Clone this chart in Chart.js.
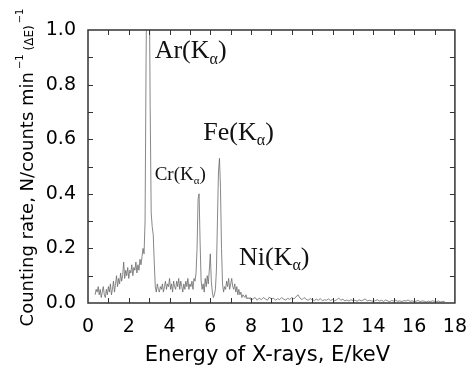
<!DOCTYPE html>
<html>
<head>
<meta charset="utf-8">
<script src="https://cdn.jsdelivr.net/npm/chart.js@4/dist/chart.umd.min.js"></script>
<style>
  html, body { margin: 0; padding: 0; background: #fff; }
</style>
</head>
<body>
<canvas id="spectrum" width="472" height="365"></canvas>
<script>
// counting rate, every 0.05 keV from 0.35 to 8.00 keV
const fineStart = 0.35
const fineStep = 0.05
const rateFine = [
  0.03, 0.05, 0.04, 0.06, 0.03, 0.05, 0.02, 0.04, 0.06, 0.03,   // 0.35 - 0.80
  0.02, 0.05, 0.03, 0.06, 0.04, 0.07, 0.03, 0.05, 0.08, 0.04,   // 0.85 - 1.30
  0.07, 0.10, 0.06, 0.09, 0.07, 0.11, 0.08, 0.10, 0.15, 0.09,   // 1.35 - 1.80
  0.12, 0.10, 0.13, 0.09, 0.12, 0.11, 0.14, 0.10, 0.13, 0.12,   // 1.85 - 2.30
  0.15, 0.11, 0.14, 0.12, 0.16, 0.14, 0.17, 0.20, 0.18, 0.30,   // 2.35 - 2.80
  0.90, 1.30, 1.35, 1.25, 0.72, 0.33, 0.28, 0.25, 0.15, 0.06,   // 2.85 - 3.30
  0.04, 0.07, 0.05, 0.04, 0.06, 0.05, 0.07, 0.04, 0.06, 0.08,   // 3.35 - 3.80
  0.05, 0.07, 0.06, 0.09, 0.05, 0.07, 0.04, 0.08, 0.06, 0.05,   // 3.85 - 4.30
  0.08, 0.06, 0.09, 0.05, 0.08, 0.06, 0.04, 0.07, 0.05, 0.08,   // 4.35 - 4.80
  0.06, 0.09, 0.05, 0.07, 0.06, 0.08, 0.05, 0.09, 0.08, 0.11,   // 4.85 - 5.30
  0.20, 0.38, 0.40, 0.22, 0.08, 0.05, 0.07, 0.04, 0.09, 0.06,   // 5.35 - 5.80
  0.10, 0.07, 0.12, 0.18, 0.08, 0.04, 0.02, 0.03, 0.05, 0.12,   // 5.85 - 6.30
  0.30, 0.48, 0.53, 0.42, 0.20, 0.07, 0.04, 0.06, 0.05, 0.08,   // 6.35 - 6.80
  0.06, 0.09, 0.05, 0.07, 0.09, 0.06, 0.05, 0.07, 0.04, 0.06,   // 6.85 - 7.30
  0.03, 0.05, 0.03, 0.04, 0.02, 0.03, 0.025, 0.02, 0.03, 0.015, // 7.35 - 7.80
  0.02, 0.015, 0.02, 0.01                                       // 7.85 - 8.00
]
// counting rate, every 0.1 keV from 8.1 to 17.5 keV
const coarseStart = 8.1
const coarseStep = 0.1
const rateCoarse = [
  0.015, 0.02, 0.01, 0.018, 0.012, 0.02, 0.015, 0.01, 0.022, 0.014,
  0.018, 0.01, 0.016, 0.012, 0.02, 0.014, 0.011, 0.017, 0.013, 0.02,
  0.015, 0.022, 0.03, 0.018, 0.012, 0.02, 0.014, 0.01, 0.016, 0.012,
  0.009, 0.014, 0.01, 0.016, 0.008, 0.012, 0.01, 0.015, 0.009, 0.013,
  0.008, 0.012, 0.018, 0.01, 0.014, 0.008, 0.011, 0.007, 0.012, 0.009,
  0.01, 0.006, 0.012, 0.008, 0.011, 0.015, 0.007, 0.01, 0.008, 0.006,
  0.009, 0.012, 0.007, 0.01, 0.006, 0.011, 0.008, 0.005, 0.009, 0.007,
  0.01, 0.006, 0.008, 0.005, 0.009, 0.007, 0.011, 0.006, 0.008, 0.005,
  0.007, 0.009, 0.005, 0.008, 0.006, 0.004, 0.007, 0.005, 0.008, 0.006,
  0.005, 0.007, 0.004, 0.006, 0.005
]

// peak labels
const peakNames = ['Ar', 'Cr', 'Fe', 'Ni']
const peakLabelE = [3.27, 3.27, 5.66, 7.41]
const peakLabelRate = [0.896, 0.45, 0.597, 0.139]

const xTitle = 'Energy of X-rays, E/keV'
const yTitle = 'Counting rate, N/counts min'

const points = []
rateFine.forEach((r, i) => points.push({ x: +(fineStart + i * fineStep).toFixed(2), y: r }))
rateCoarse.forEach((r, i) => points.push({ x: +(coarseStart + i * coarseStep).toFixed(2), y: r }))

const sans = 'DejaVu Sans'
const serif = 'Liberation Serif'
const peakFont = { Ar: 26, Cr: 19, Fe: 26, Ni: 26 }

// frame, inward ticks, titles and peak labels
const decor = {
  id: 'decor',
  afterDatasetsDraw(chart) {
    const { ctx, chartArea: a, scales: { x, y } } = chart
    ctx.save()

    ctx.strokeStyle = '#333'
    ctx.lineWidth = 1.5
    ctx.strokeRect(a.left, a.top, a.right - a.left, a.bottom - a.top)

    ctx.lineWidth = 1
    ctx.beginPath()
    for (let t of x.ticks) {
      if (t.value <= x.min || t.value >= x.max) continue
      const px = Math.round(x.getPixelForValue(t.value)) + 0.5
      ctx.moveTo(px, a.bottom); ctx.lineTo(px, a.bottom - 5)
      ctx.moveTo(px, a.top); ctx.lineTo(px, a.top + 5)
    }
    for (let t of y.ticks) {
      if (t.value <= y.min || t.value >= y.max) continue
      const py = Math.round(y.getPixelForValue(t.value)) + 0.5
      ctx.moveTo(a.left, py); ctx.lineTo(a.left + 5, py)
      ctx.moveTo(a.right, py); ctx.lineTo(a.right - 5, py)
    }
    ctx.stroke()

    // peak labels: Name(K_alpha)
    ctx.fillStyle = '#111'
    ctx.textBaseline = 'alphabetic'
    ctx.textAlign = 'left'
    peakNames.forEach((n, i) => {
      const size = peakFont[n]
      let px = x.getPixelForValue(peakLabelE[i])
      const py = y.getPixelForValue(peakLabelRate[i])
      ctx.font = `${size}px "${serif}"`
      ctx.fillText(n + '(K', px, py)
      px += ctx.measureText(n + '(K').width
      ctx.font = `${Math.round(size * 0.6)}px "${serif}"`
      ctx.fillText('α', px, py + size * 0.2)
      px += ctx.measureText('α').width
      ctx.font = `${size}px "${serif}"`
      ctx.fillText(')', px, py)
    })

    // x title
    ctx.fillStyle = '#000'
    ctx.font = `21px "${sans}"`
    ctx.textAlign = 'center'
    ctx.fillText(xTitle, (a.left + a.right) / 2 - 4, 361)

    // y title with superscripts
    const parts = [
      { t: yTitle, size: 18, dy: 0, gap: 3 },
      { t: '−1', size: 10, dy: -10, gap: 0 },
      { t: ' (ΔE)', size: 12, dy: 0, gap: 2 },
      { t: '−1', size: 10, dy: -10, gap: 0 }
    ]
    ctx.textAlign = 'left'
    let total = 0
    for (let p of parts) {
      ctx.font = `${p.size}px "${sans}"`
      p.w = ctx.measureText(p.t).width
      total += p.w + p.gap
    }
    ctx.translate(33, (a.top + a.bottom) / 2 + 1)
    ctx.rotate(-Math.PI / 2)
    let cx = -total / 2
    for (let p of parts) {
      ctx.font = `${p.size}px "${sans}"`
      ctx.fillText(p.t, cx, p.dy)
      cx += p.w + p.gap
    }
    ctx.restore()
  }
}

new Chart(document.getElementById('spectrum'), {
  type: 'line',
  data: {
    datasets: [{
      data: points,
      borderColor: '#6a6a6a',
      borderWidth: 0.8,
      pointRadius: 0,
      tension: 0,
      fill: false
    }]
  },
  options: {
    responsive: false,
    animation: false,
    layout: { padding: { top: 30, right: 14, left: 0, bottom: 0 } },
    plugins: { legend: { display: false }, tooltip: { enabled: false } },
    scales: {
      x: {
        type: 'linear', min: 0, max: 18,
        grid: { display: false },
        border: { display: false },
        ticks: {
          stepSize: 1, autoSkip: false, maxRotation: 0, padding: 5,
          color: '#000', font: { family: sans, size: 19 },
          callback: v => (v % 2 === 0 ? String(v) : '')
        },
        afterFit: s => { s.height = 62 }
      },
      y: {
        min: 0, max: 1,
        grid: { display: false },
        border: { display: false },
        ticks: {
          stepSize: 0.1, autoSkip: false, padding: 4,
          color: '#000', font: { family: sans, size: 19 },
          callback: v => (Math.round(v * 10) % 2 === 0 ? v.toFixed(1) : '')
        },
        afterFit: s => { s.width = 88 }
      }
    }
  },
  plugins: [decor]
})
</script>
</body>
</html>
